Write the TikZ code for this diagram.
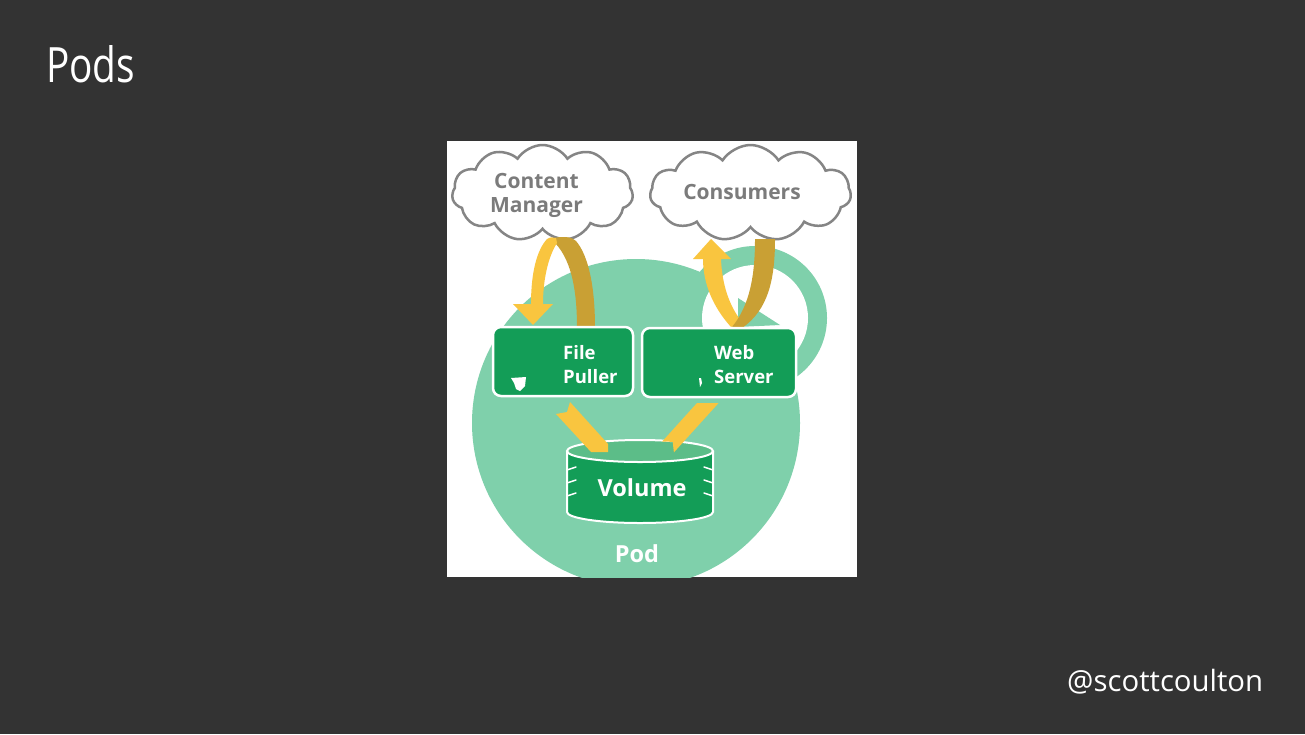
\documentclass[tikz,border=0pt]{standalone}
\usepackage{fontspec}
\setmainfont{Open Sans}
\usetikzlibrary{shapes.symbols}
\definecolor{bg}{HTML}{333333}
\definecolor{podgreen}{HTML}{7FD0AB}
\definecolor{boxgreen}{HTML}{139D57}
\definecolor{voltop}{HTML}{5CBD88}
\definecolor{ylight}{HTML}{F9C53F}
\definecolor{ydark}{HTML}{C9A034}
\definecolor{cloudgray}{HTML}{858585}
\definecolor{cloudtextgray}{HTML}{7B7B7B}
\tikzset{
  cloudbox/.style={cloud, cloud puffs=11, cloud puff arc=115, aspect=1.9, draw=cloudgray, line width=2.5pt, fill=white, inner sep=0pt},
  cloudtext/.style={text=cloudtextgray, inner sep=0pt, font=\fontsize{21}{24}\selectfont\bfseries, align=center},
  boxtext/.style={text=white, inner sep=0pt, font=\fontsize{18.5}{24}\selectfont\bfseries, align=left, anchor=west},
  podbox/.style={fill=boxgreen, draw=white, line width=2.5pt, rounded corners=8pt},
  bigtext/.style={text=white, inner sep=0pt, font=\fontsize{23.5}{24}\selectfont\bfseries, anchor=base},
}
\begin{document}
\begin{tikzpicture}[x=1pt,y=-1pt]
\useasboundingbox (0,0) rectangle (1305,734);
\fill[bg] (0,0) rectangle (1305,734);
% image area
\fill[white] (447,141) rectangle (857,577);
\begin{scope}
  \clip (447,141) rectangle (857,577);
  % pod circle
  \fill[podgreen] (636,423) circle (164pt);
  % ring
  \fill[podgreen] (755,318) circle (72pt);
  \fill[white] (755,318) circle (53pt);
  \fill[podgreen] (738,298) -- (780,325) -- (738,327) -- cycle;
\end{scope}
% clouds
\node[cloudbox, minimum width=181pt, minimum height=96pt] (cmcloud) at (542.5,193) {};
\node[cloudbox, minimum width=201pt, minimum height=96pt] (concloud) at (750.5,193) {};
\node[cloudtext] (cmtext) at (536.5,195.5) {Content\\Manager};
\node[cloudtext, anchor=base] (context) at (742,199) {Consumers};
% ribbon content manager -> file puller
\fill[ydark] (553,238) .. controls (565,236) and (572,237) .. (576,241)
   .. controls (588,255) and (595,285) .. (595,328) -- (577,328)
   .. controls (577,292) and (572,262) .. (556,244) -- cycle;
\fill[ylight] (531,304) .. controls (531,272) and (537,250) .. (547,239)
   .. controls (550,237) and (553,237) .. (556,238) -- (557,243)
   .. controls (548,257) and (543,280) .. (543,304) -- (553,304) -- (533,325) -- (513,304) -- cycle;
% ribbon web server -> consumers
\fill[ylight] (731,327) .. controls (712,306) and (703,282) .. (703,259) -- (693,259) -- (711,239) -- (731,259) -- (721,259)
   .. controls (722,284) and (729,306) .. (742,322) -- cycle;
\fill[ydark] (755,239) -- (775,239) .. controls (775,280) and (768,310) .. (742,328) -- (732,327)
   .. controls (750,305) and (755,275) .. (755,239) -- cycle;
% volume
\fill[boxgreen] (567,451) -- (567,512) arc[start angle=180, end angle=360, x radius=73pt, y radius=11pt] -- (713,451) -- cycle;
\fill[voltop] (640,451) ellipse [x radius=73pt, y radius=11pt];
\draw[white, line width=2pt] (640,451) ellipse [x radius=73pt, y radius=11pt];
\draw[white, line width=2pt] (567,451) -- (567,512) arc[start angle=180, end angle=360, x radius=73pt, y radius=11pt] -- (713,451);
\foreach \ty in {470,483,496} {
  \draw[white, line width=1.5pt, line cap=round] (567,\ty) -- (576,\ty-3);
  \draw[white, line width=1.5pt, line cap=round] (713,\ty) -- (704,\ty-3);
}
% bands to/from volume
\fill[ylight] (570,402) -- (608,444) -- (608,452) -- (591,452) -- (556,414) -- (567,412) -- cycle;
\fill[ylight] (697,403) -- (718.6,403) -- (673.9,452.4) -- (672.7,441.8) -- (662.1,441.6) -- cycle;
% boxes
\draw[podbox] (493,327) rectangle (633,396);
\draw[podbox] (642,328) rectangle (796,397);
\fill[white] (511,378) -- (526,377) -- (525,386) -- (520,391) -- (516,389) -- (514,383) -- cycle;
\fill[white] (699,378) -- (701,378) -- (702,383) -- (700,387) -- cycle;
\node[boxtext] (fp) at (563,365) {File\\Puller};
\node[boxtext] (ws) at (714,365) {Web\\Server};
\node[bigtext] (vol) at (642,496) {Volume};
\node[bigtext] (pod) at (637,562) {Pod};
% title and handle
\node[anchor=base west, inner sep=0pt, text=white] (title) at (46,82) {\resizebox{89pt}{37pt}{\fontsize{48}{48}\selectfont Pods}};
\node[anchor=base west, inner sep=0pt, text=white] (handle) at (1067,691) {\resizebox{196pt}{!}{\fontsize{29}{29}\selectfont @scottcoulton}};
\end{tikzpicture}
\end{document}
